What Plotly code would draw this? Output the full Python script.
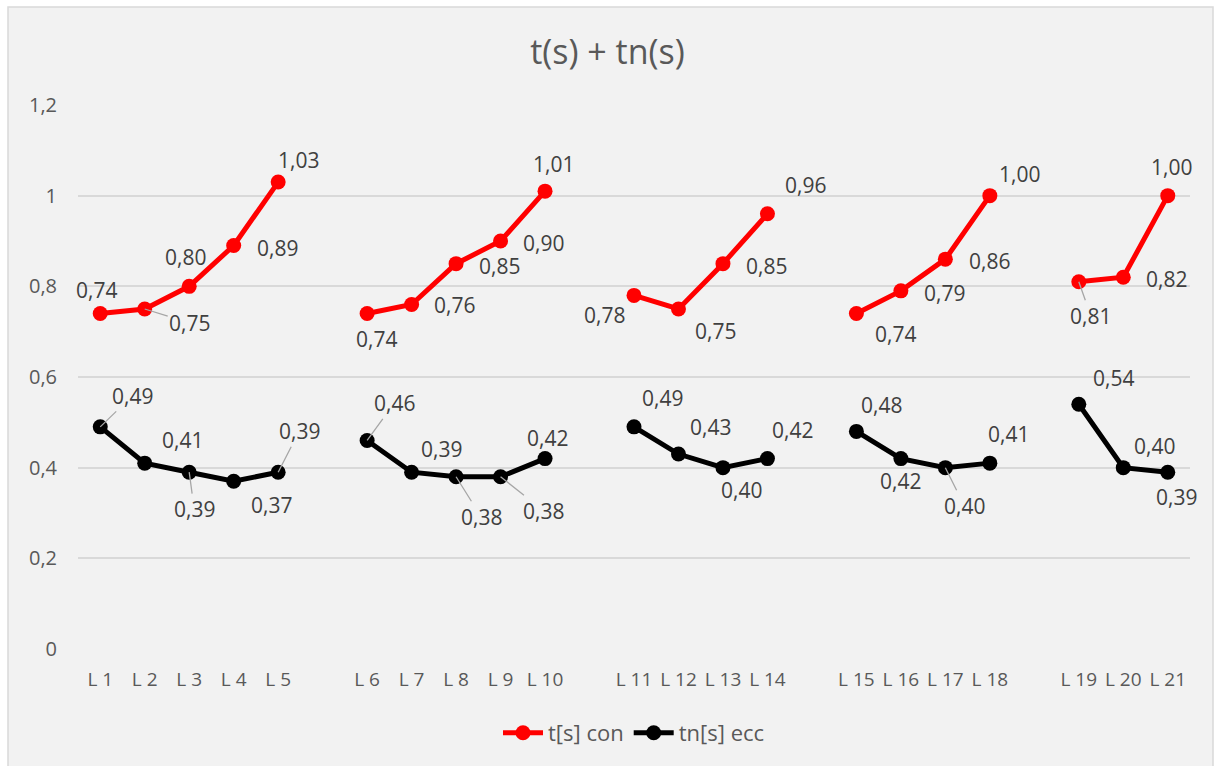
import plotly.graph_objects as go

# ---- data ----
categories = ["L 1", "L 2", "L 3", "L 4", "L 5", "",
              "L 6", "L 7", "L 8", "L 9", "L 10", "",
              "L 11", "L 12", "L 13", "L 14", "",
              "L 15", "L 16", "L 17", "L 18", "",
              "L 19", "L 20", "L 21"]
t_con = [0.74, 0.75, 0.80, 0.89, 1.03, None,
         0.74, 0.76, 0.85, 0.90, 1.01, None,
         0.78, 0.75, 0.85, 0.96, None,
         0.74, 0.79, 0.86, 1.00, None,
         0.81, 0.82, 1.00]
tn_ecc = [0.49, 0.41, 0.39, 0.37, 0.39, None,
          0.46, 0.39, 0.38, 0.38, 0.42, None,
          0.49, 0.43, 0.40, 0.42, None,
          0.48, 0.42, 0.40, 0.41, None,
          0.54, 0.40, 0.39]
y_tickvals = [0, 0.2, 0.4, 0.6, 0.8, 1.0, 1.2]
y_ticktext = ["0", "0,2", "0,4", "0,6", "0,8", "1", "1,2"]

# ---- label placement (style: pixel offsets dx, dy (down positive), leader line flag) ----
t_label_style = [(-4, -24, 0), (45, 14, 1), (-4, -29, 0), (44, 2, 0), (20, -22, 0), None,
                 (9, 25, 0), (43, 1, 0), (43, 2, 0), (43, 2, 0), (8, -27, 0), None,
                 (-30, 20, 0), (37, 22, 0), (44, 2, 0), (38, -29, 0), None,
                 (39, 20, 0), (44, 2, 0), (44, 2, 0), (30, -22, 0), None,
                 (12, 34, 1), (43, 2, 0), (4, -29, 0)]
tn_label_style = [(32, -31, 1), (38, -23, 0), (5, 37, 1), (38, 24, 0), (21, -41, 1), None,
                  (27, -37, 1), (30, -23, 0), (25, 40, 1), (43, 34, 1), (2, -21, 0), None,
                  (28, -29, 0), (32, -27, 0), (19, 22, 0), (25, -29, 0), None,
                  (25, -26, 0), (0, 22, 0), (19, 38, 1), (19, -29, 0), None,
                  (35, -26, 0), (31, -22, 0), (9, 25, 0)]

FONT = "Open Sans"
LABEL_COLOR = "#404040"
AXIS_COLOR = "#595959"

xs = list(range(len(categories)))
tickvals = [i for i, c in enumerate(categories) if c]
ticktext = [c for c in categories if c]

fig = go.Figure()
fig.add_trace(go.Scatter(x=xs, y=t_con, name="t[s] con", mode="lines+markers",
                         line=dict(color="#FF0000", width=5),
                         marker=dict(color="#FF0000", size=15),
                         connectgaps=False))
fig.add_trace(go.Scatter(x=xs, y=tn_ecc, name="tn[s] ecc", mode="lines+markers",
                         line=dict(color="#000000", width=5),
                         marker=dict(color="#000000", size=15),
                         connectgaps=False))

annotations = []
for vals, styles in ((t_con, t_label_style), (tn_ecc, tn_label_style)):
    for i, (v, st) in enumerate(zip(vals, styles)):
        if v is None:
            continue
        dx, dy, leader = st
        txt = f"{v:.2f}".replace(".", ",")
        if leader:
            annotations.append(dict(x=i, y=v, xref="x", yref="y", text=txt,
                                    showarrow=True, ax=dx, ay=dy, arrowhead=0,
                                    arrowwidth=1.3, arrowcolor="#A6A6A6", standoff=0,
                                    font=dict(family=FONT, size=21, color=LABEL_COLOR)))
        else:
            annotations.append(dict(x=i, y=v, xref="x", yref="y", text=txt,
                                    showarrow=False, xshift=dx, yshift=-dy,
                                    font=dict(family=FONT, size=21, color=LABEL_COLOR)))

W, H = 1215, 766
ml, mr, mt, mb = 78, 25, 105, 117
pw, ph = W - ml - mr, H - mt - mb

def px_x(p):
    return (p - ml) / pw

def px_y(p):
    return (H - mb - p) / ph

fig.update_layout(
    width=W, height=H,
    margin=dict(l=ml, r=mr, t=mt, b=mb),
    paper_bgcolor="white",
    plot_bgcolor="rgba(0,0,0,0)",
    font=dict(family=FONT, color=AXIS_COLOR),
    title=dict(text="t(s) + tn(s)", x=0.5, xanchor="center", y=1 - 52 / H, yanchor="middle",
               font=dict(family=FONT, size=34, color=AXIS_COLOR)),
    showlegend=True,
    legend=dict(orientation="h", x=0.5, xanchor="center", y=px_y(733), yanchor="middle",
                font=dict(family=FONT, size=22, color=AXIS_COLOR),
                bgcolor="rgba(0,0,0,0)", itemwidth=40),
    xaxis=dict(range=[-0.5, len(categories) - 0.5], tickmode="array",
               tickvals=tickvals, ticktext=ticktext, showgrid=False, zeroline=False,
               showline=False, ticks="", ticklabelstandoff=17,
               tickfont=dict(family=FONT, size=19, color=AXIS_COLOR), fixedrange=True),
    yaxis=dict(range=[0, 1.2], tickmode="array", tickvals=y_tickvals, ticktext=y_ticktext,
               showgrid=True, gridcolor="#D9D9D9", gridwidth=1.5, zeroline=False,
               showline=False, ticks="", ticklabelstandoff=20,
               tickfont=dict(family=FONT, size=20, color=AXIS_COLOR), fixedrange=True),
    annotations=annotations,
    shapes=[dict(type="rect", xref="paper", yref="paper",
                 x0=px_x(8), x1=px_x(1213), y0=px_y(H + 5), y1=px_y(7),
                 fillcolor="#F2F2F2", line=dict(color="#D9D9D9", width=1.5), layer="below")],
)

fig.write_html("out.html")
